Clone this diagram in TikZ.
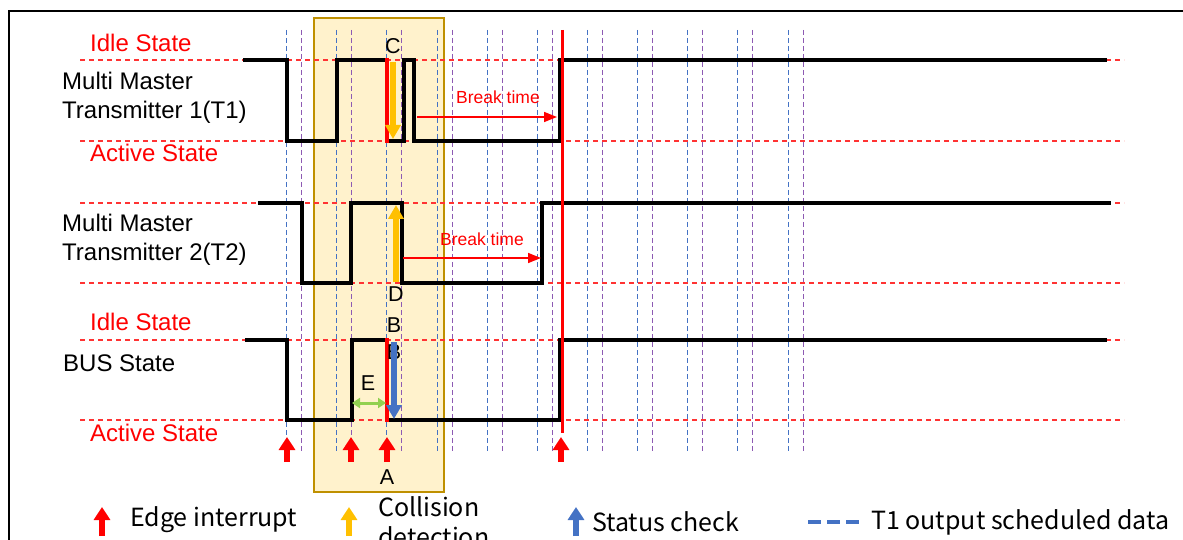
\documentclass[tikz,border=0pt]{standalone}
\usepackage{fontspec}
\setmainfont{Liberation Sans}
\newfontfamily\legendfont{Noto Sans CJK JP}
\usetikzlibrary{arrows.meta}

\definecolor{tanfill}{HTML}{FFF2CC}
\definecolor{tanedge}{HTML}{BF9000}
\definecolor{gridblue}{HTML}{4472C4}
\definecolor{gridpurple}{HTML}{7030A0}
\definecolor{colyellow}{HTML}{FFC000}
\definecolor{egreen}{HTML}{92D050}

\begin{document}
\begin{tikzpicture}[x=1pt, y=-1pt, line join=miter,
    statelabel/.style={text=red, font=\fontsize{24}{28}\selectfont, anchor=west, inner sep=0pt},
    signame/.style={font=\fontsize{24}{29}\selectfont, anchor=west, align=left, inner sep=0pt},
    letter/.style={font=\fontsize{21.5}{24}\selectfont, inner sep=0pt},
    breaklabel/.style={text=red, font=\fontsize{17.5}{20}\selectfont, inner sep=0pt},
    legendtext/.style={font=\legendfont\fontsize{25}{30}\selectfont, anchor=west, align=left, inner sep=0pt},
    signal/.style={line width=4pt},
    levelline/.style={red!80, line width=1.2pt, dash pattern=on 5pt off 4pt},
    gridline/.style={line width=1pt, dash pattern=on 5pt off 3pt},
    edgered/.style={red, line width=4pt},
    breakarrow/.style={red, line width=1.5pt, -{Triangle[width=10pt,length=13pt]}},
    blockarrow/.style={line width=6pt, -{Triangle[width=16pt,length=13pt]}}]
    \useasboundingbox (0,0) rectangle (1183,540);

    \draw[line width=2pt] (9,545) -- (9,11) -- (1190,11);
    \draw[tanedge, fill=tanfill, line width=2pt] (314,18) rectangle (444,492);

    \foreach \i in {0,...,10} {
        \draw[gridline, gridblue] (286.7+50.13*\i,30) -- (286.7+50.13*\i,451);
        \draw[gridline, gridpurple!80] (301.7+50.13*\i,30) -- (301.7+50.13*\i,451);
    }
    \foreach \y in {60,141,203,283,340,420}
        \draw[levelline] (80,\y) -- (1124,\y);

    % T1
    \draw[signal] (243,60) -| (287,141) -| (336.5,60) -- (387,60);
    \draw[signal] (385,141) -| (404,60) -| (414,141) -| (560,60) -- (1107,60);
    \draw[edgered] (387,58) -- (387,143);
    % T2
    \draw[signal] (258,203) -| (301.5,283) -| (350.5,203) -| (401.5,283) -| (541.5,203) -- (1111,203);
    % BUS
    \draw[signal] (245,340) -| (287,420) -| (351.5,340) -- (387,340);
    \draw[signal] (385,420) -| (560,340) -- (1107,340);
    \draw[edgered] (387,338) -- (387,422);

    \draw[red, line width=3pt] (562,30) -- (562,433);

    \node[statelabel] (idle1) at (90,43) {Idle State};
    \node[signame] (t1) at (62,98) {Multi Master\\Transmitter 1(T1)};
    \node[statelabel] (active1) at (90,153) {Active State};
    \node[signame] (t2) at (62,240) {Multi Master\\Transmitter 2(T2)};
    \node[statelabel] (idle2) at (90,322) {Idle State};
    \node[signame] (bus) at (63,363) {BUS State};
    \node[statelabel] (active2) at (90,433) {Active State};

    \node[letter] (c) at (393,46) {C};
    \node[letter] (d) at (396,294) {D};
    \node[letter] (b1) at (394,325) {B};
    \node[letter] (b2) at (394,352) {B};
    \node[letter] (e) at (368,383) {E};
    \node[letter] (a) at (387,477) {A};

    \draw[blockarrow, colyellow, -{Triangle[width=15pt,length=14pt]}] (393,62) -- (393,139);
    \draw[blockarrow, colyellow, -{Triangle[width=15pt,length=14pt]}] (396,282) -- (396,205);
    \draw[blockarrow, gridblue, -{Triangle[width=15pt,length=14pt]}] (394,342) -- (394,419);
    \draw[egreen, line width=3pt, {Triangle[width=10pt,length=8pt]}-{Triangle[width=10pt,length=8pt]}] (352,403) -- (386,403);

    \draw[breakarrow] (417,117) -- (557,117);
    \node[breaklabel] (break1) at (498,97) {Break time};
    \draw[breakarrow] (403,258) -- (541,258);
    \node[breaklabel] (break2) at (482,239) {Break time};

    \foreach \x in {287,351,387,561}
        \draw[blockarrow, red] (\x,462) -- (\x,437);

    % legend
    \draw[blockarrow, red] (102,536) -- (102,507);
    \node[legendtext] (lgedge) at (130,520) {Edge interrupt};
    \draw[blockarrow, colyellow] (349,536) -- (349,507);
    \node[legendtext, anchor=north west] (lgcoll) at (378,496) {Collision\\detection};
    \draw[blockarrow, gridblue] (576,536) -- (576,507);
    \node[legendtext] (lgstat) at (592,522) {Status check};
    \draw[gridblue, line width=4pt, dash pattern=on 13pt off 6pt] (808,521.5) -- (859,521.5);
    \node[legendtext] (lgsched) at (871,522) {T1 output scheduled data};
\end{tikzpicture}
\end{document}
